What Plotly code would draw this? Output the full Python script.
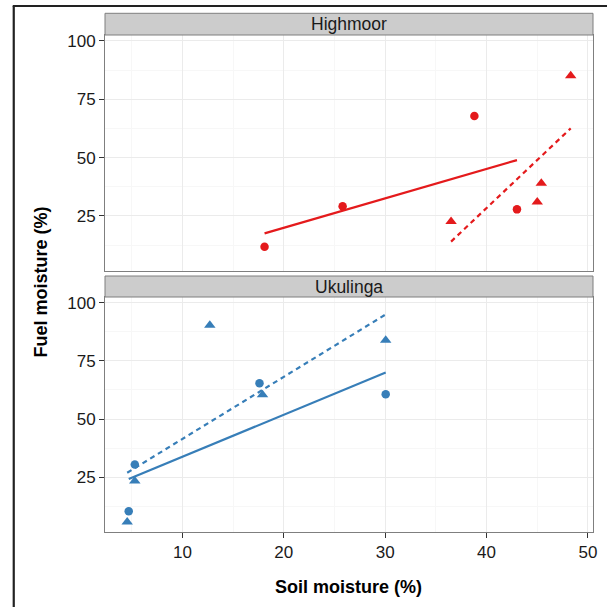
import plotly.graph_objects as go

# ---------------- data ----------------
panels = ["Highmoor", "Ukulinga"]

hm_circle_x = [18.1, 25.8, 38.8, 43.0]
hm_circle_y = [11.8, 29.1, 67.8, 27.8]
hm_tri_x = [36.5, 45.0, 45.4, 48.3]
hm_tri_y = [22.6, 31.0, 39.0, 85.0]
hm_fit_solid_x = [18.1, 43.0]
hm_fit_solid_y = [17.5, 48.9]
hm_fit_dash_x = [36.5, 48.3]
hm_fit_dash_y = [14.0, 62.5]

uk_circle_x = [4.7, 5.3, 17.6, 30.05]
uk_circle_y = [10.3, 30.4, 65.4, 60.7]
uk_tri_x = [4.55, 5.3, 12.7, 17.9, 30.05]
uk_tri_y = [5.7, 23.3, 90.4, 60.4, 83.9]
uk_fit_solid_x = [4.7, 30.05]
uk_fit_solid_y = [24.2, 70.0]
uk_fit_dash_x = [4.55, 30.05]
uk_fit_dash_y = [26.9, 95.0]

x_ticks = [10, 20, 30, 40, 50]
y_ticks = [25, 50, 75, 100]

RED = "#E41A1C"
BLUE = "#377EB8"

# ---------------- layout geometry (pixels) ----------------
W, H = 607, 607
ML, MR, MT, MB = 105, 10, 13, 75
PW = W - ML - MR
PH = H - MT - MB


def py(pix):
    return 1 - (pix - MT) / PH


def px(pix):
    return (pix - ML) / PW


def clamp(v):
    return min(1.0, max(0.0, v))


top_strip = (13.3, 35)
top_panel = (35, 271)
bot_strip = (276, 297)
bot_panel = (297, 532)

fig = go.Figure()


def add_panel(cx, cy, tx, ty, sx, sy, dx, dy, color, xa, ya):
    fig.add_trace(go.Scatter(x=cx, y=cy, mode="markers", xaxis=xa, yaxis=ya,
                             marker=dict(symbol="circle", size=8.5, color=color),
                             showlegend=False))
    fig.add_trace(go.Scatter(x=tx, y=ty, mode="markers", xaxis=xa, yaxis=ya,
                             marker=dict(symbol="triangle-up", size=10, color=color),
                             showlegend=False))
    fig.add_trace(go.Scatter(x=sx, y=sy, mode="lines", xaxis=xa, yaxis=ya,
                             line=dict(color=color, width=2.2),
                             showlegend=False))
    fig.add_trace(go.Scatter(x=dx, y=dy, mode="lines", xaxis=xa, yaxis=ya,
                             line=dict(color=color, width=2.2, dash="5px,4px"),
                             showlegend=False))


add_panel(hm_circle_x, hm_circle_y, hm_tri_x, hm_tri_y, hm_fit_solid_x, hm_fit_solid_y,
          hm_fit_dash_x, hm_fit_dash_y, RED, "x", "y")
add_panel(uk_circle_x, uk_circle_y, uk_tri_x, uk_tri_y, uk_fit_solid_x, uk_fit_solid_y,
          uk_fit_dash_x, uk_fit_dash_y, BLUE, "x2", "y2")

FONT = "Liberation Sans, Arial, Helvetica, sans-serif"
XR = [2.36, 50.5]
YR = [1.4, 102.5]

common_x = dict(range=XR, tickvals=x_ticks, showgrid=True, gridcolor="#EBEBEB", gridwidth=1,
                minor=dict(dtick=5, tick0=0, showgrid=True, gridcolor="#F7F7F7", gridwidth=1),
                zeroline=False, showline=True, mirror=True, linecolor="#7F7F7F", linewidth=1,
                domain=[0, 1])
common_y = dict(range=YR, tickvals=y_ticks, showgrid=True, gridcolor="#EBEBEB", gridwidth=1,
                minor=dict(dtick=12.5, tick0=0, showgrid=True, gridcolor="#F7F7F7", gridwidth=1),
                zeroline=False, showline=True, mirror=True, linecolor="#7F7F7F", linewidth=1,
                ticks="outside", ticklen=5, tickwidth=1, tickcolor="#333333",
                tickfont=dict(family=FONT, size=17, color="#1a1a1a"))

fig.update_layout(
    width=W, height=H,
    margin=dict(l=ML, r=MR, t=MT, b=MB),
    paper_bgcolor="white", plot_bgcolor="white",
    xaxis=dict(common_x, anchor="y", showticklabels=False, ticks=""),
    yaxis=dict(common_y, anchor="x", domain=[clamp(py(top_panel[1])), clamp(py(top_panel[0]))]),
    xaxis2=dict(common_x, anchor="y2", matches="x", ticks="outside", ticklen=5, tickwidth=1,
                tickcolor="#333333", tickfont=dict(family=FONT, size=17, color="#1a1a1a")),
    yaxis2=dict(common_y, anchor="x2", domain=[clamp(py(bot_panel[1])), clamp(py(bot_panel[0]))]),
)

shapes = []
annotations = []
for name, (s0, s1) in zip(panels, [top_strip, bot_strip]):
    shapes.append(dict(type="rect", xref="paper", yref="paper", x0=0, x1=1,
                       y0=py(s1), y1=py(s0), fillcolor="#CCCCCC",
                       line=dict(color="#7F7F7F", width=1), layer="above"))
    annotations.append(dict(text=name, xref="paper", yref="paper", x=0.5, y=py((s0 + s1) / 2),
                            xanchor="center", yanchor="middle", showarrow=False,
                            font=dict(family=FONT, size=17.5, color="#1a1a1a")))

# outer frame lines (left and top)
shapes.append(dict(type="line", xref="paper", yref="paper", x0=px(13), x1=px(13),
                   y0=py(640), y1=py(6), line=dict(color="#222222", width=2.2)))
shapes.append(dict(type="line", xref="paper", yref="paper", x0=px(12), x1=px(640),
                   y0=py(6), y1=py(6), line=dict(color="#222222", width=2.2)))

annotations.append(dict(text="<b>Fuel moisture (%)</b>", xref="paper", yref="paper",
                        x=px(40), y=py(282), textangle=-90, xanchor="center", yanchor="middle",
                        showarrow=False, font=dict(family=FONT, size=18, color="#000000")))
annotations.append(dict(text="<b>Soil moisture (%)</b>", xref="paper", yref="paper",
                        x=px(350.5), y=py(586.5), xanchor="center", yanchor="middle",
                        showarrow=False, font=dict(family=FONT, size=18, color="#000000")))

fig.update_layout(shapes=shapes, annotations=annotations)

fig.write_html("out.html")
